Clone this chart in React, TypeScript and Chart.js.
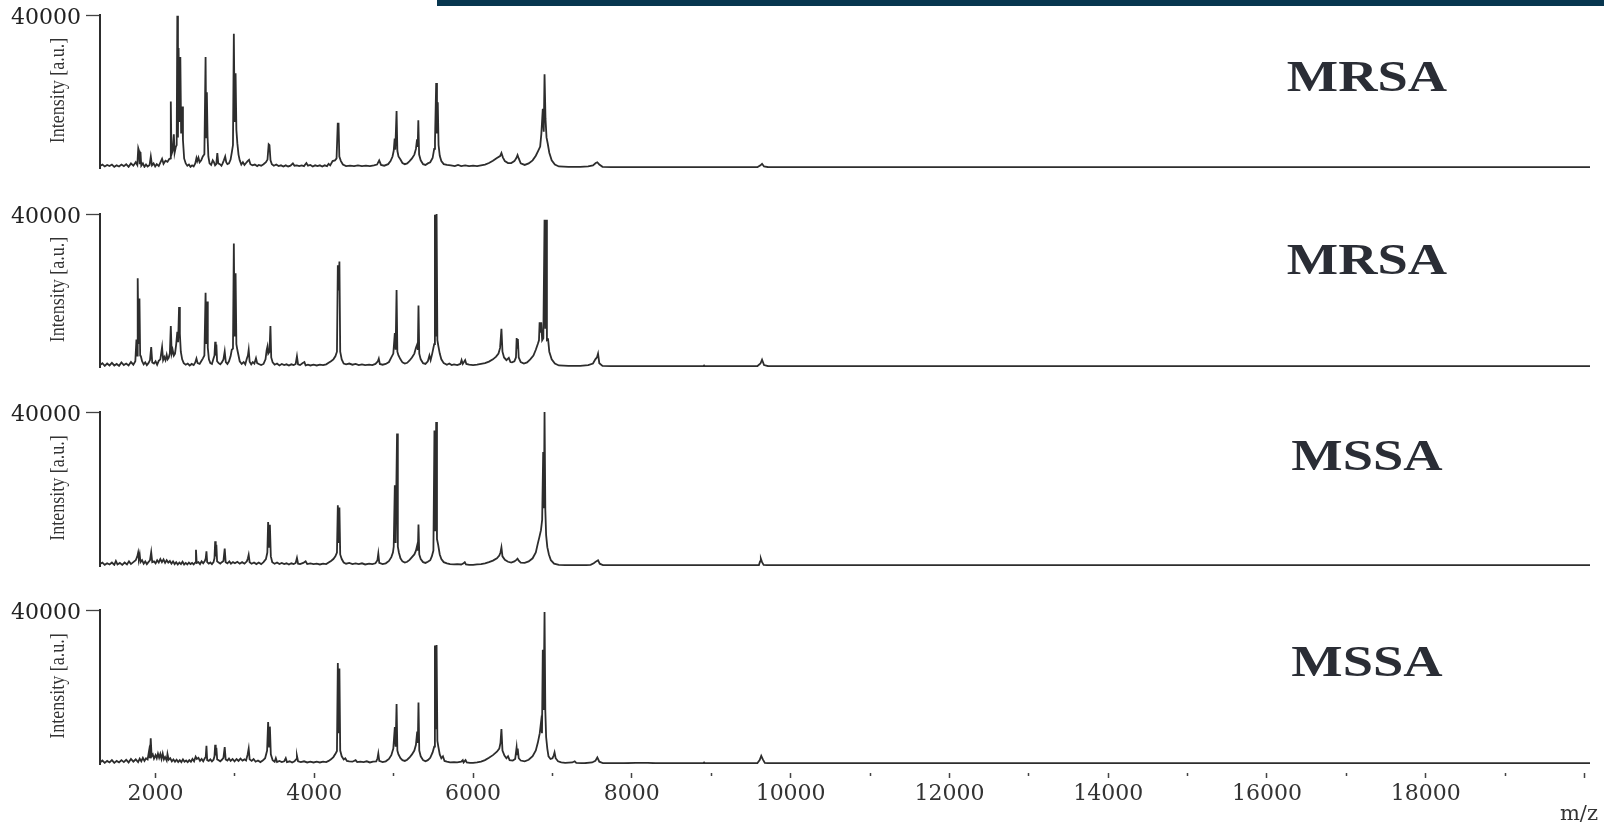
import React, { useEffect, useRef } from 'react';
import { Chart, registerables } from 'chart.js';

Chart.register(...registerables);

// ---------------- data ----------------
const panelLabels = ['MRSA', 'MRSA', 'MSSA', 'MSSA'];
const yAxisTitle = 'Intensity [a.u.]';
const xAxisTitle = 'm/z';
const yTopValue = 40000;
const xMin = 1300;
const xMax = 20070;
const xTickValues = [2000, 3000, 4000, 5000, 6000, 7000, 8000, 9000, 10000, 11000, 12000, 13000, 14000, 15000, 16000, 17000, 18000, 19000, 20000];
const xLabelledTicks = [2000, 4000, 6000, 8000, 10000, 12000, 14000, 16000, 18000];

// [m/z, intensity]
const mrsa1: number[][] = [
  [1300, 500], [1330, 900], [1360, 400], [1390, 800], [1420, 500], [1450, 900], [1480, 300], [1510, 700], [1540, 400], [1570, 900],
  [1600, 500], [1630, 1000], [1660, 300], [1690, 1200], [1720, 600], [1750, 1500], [1770, 800], [1782, 5200], [1792, 4500], [1800, 1000],
  [1810, 4200], [1820, 600], [1840, 1200], [1860, 300], [1880, 900], [1900, 400], [1925, 800], [1940, 3000], [1955, 700], [1975, 1200],
  [1995, 400], [2015, 1000], [2040, 500], [2060, 1400], [2082, 2400], [2100, 1100], [2125, 1900], [2150, 1600], [2170, 2300], [2185, 2500],
  [2192, 17400], [2200, 3500], [2215, 4500], [2230, 8800], [2240, 4000], [2255, 5500], [2266, 6000], [2274, 39800], [2282, 8000], [2290, 31400],
  [2300, 12000], [2312, 29000], [2322, 9000], [2334, 16100], [2345, 7300], [2360, 2500], [2380, 1200], [2400, 600], [2420, 900], [2440, 300],
  [2460, 700], [2480, 400], [2500, 1200], [2515, 2600], [2525, 1800], [2540, 2700], [2555, 1500], [2575, 2000], [2595, 3000], [2615, 3600],
  [2630, 29000], [2638, 8000], [2646, 19800], [2655, 8200], [2665, 3000], [2680, 1200], [2700, 800], [2720, 2000], [2735, 1500], [2750, 700],
  [2765, 1000], [2778, 3900], [2790, 1200], [2810, 1000], [2830, 600], [2845, 1200], [2860, 2000], [2877, 3000], [2890, 1500], [2905, 1000],
  [2925, 1200], [2945, 2200], [2960, 4000], [2975, 6000], [2986, 35100], [2996, 12000], [3008, 24800], [3018, 10000], [3030, 6500], [3045, 3500],
  [3060, 2000], [3080, 900], [3100, 1500], [3120, 800], [3140, 1300], [3160, 1800], [3178, 2150], [3195, 1000], [3220, 700], [3250, 900],
  [3280, 500], [3300, 800], [3330, 600], [3360, 1000], [3390, 1500], [3410, 2200], [3425, 6200], [3435, 6000], [3448, 2000], [3465, 1000],
  [3490, 600], [3520, 900], [3550, 500], [3580, 700], [3610, 400], [3640, 700], [3670, 400], [3700, 600], [3730, 1200], [3750, 600],
  [3780, 700], [3810, 500], [3840, 700], [3870, 500], [3900, 1300], [3920, 600], [3950, 800], [3980, 400], [4010, 700], [4040, 500],
  [4070, 700], [4100, 400], [4130, 700], [4160, 500], [4180, 1100], [4200, 700], [4230, 1800], [4260, 2000], [4280, 2500], [4295, 11600],
  [4305, 11600], [4315, 3000], [4335, 1800], [4360, 900], [4400, 500], [4450, 600], [4500, 500], [4550, 700], [4600, 500], [4650, 600],
  [4700, 500], [4750, 700], [4790, 900], [4817, 2000], [4840, 800], [4880, 600], [4930, 1000], [4960, 1800], [4985, 3000], [5000, 4500],
  [5012, 7700], [5020, 4800], [5036, 14900], [5046, 4500], [5060, 3000], [5085, 2200], [5110, 1300], [5140, 1000], [5170, 1200], [5200, 1800],
  [5230, 2500], [5260, 3500], [5280, 5000], [5294, 7500], [5302, 5500], [5310, 12500], [5320, 3500], [5340, 2000], [5370, 1000], [5400, 800],
  [5430, 1200], [5460, 1500], [5490, 2600], [5510, 5000], [5520, 7000], [5535, 22200], [5545, 9000], [5555, 17200], [5565, 6000], [5580, 3200],
  [5600, 1800], [5630, 1000], [5670, 800], [5720, 700], [5770, 500], [5810, 800], [5850, 500], [5900, 700], [5950, 500], [6000, 600],
  [6050, 500], [6100, 700], [6150, 900], [6200, 1300], [6250, 1900], [6300, 2600], [6340, 3100], [6357, 3900], [6375, 2800], [6400, 1800],
  [6440, 1300], [6480, 1300], [6520, 1800], [6545, 2600], [6560, 3400], [6575, 2500], [6600, 1200], [6650, 800], [6700, 1200], [6750, 2000],
  [6790, 3200], [6820, 4500], [6845, 5600], [6860, 9000], [6878, 15500], [6890, 9500], [6900, 24500], [6912, 12900], [6925, 8000], [6940, 6400],
  [6960, 4000], [6990, 2000], [7030, 900], [7080, 400], [7200, 300], [7350, 300], [7450, 400], [7510, 700], [7545, 1300], [7565, 1500],
  [7590, 900], [7630, 300], [7800, 200], [8500, 200], [9000, 200], [9580, 200], [9620, 700], [9640, 1100], [9665, 400], [9720, 200],
  [12000, 200], [16000, 200], [20070, 200],
];

const mrsa2: number[][] = [
  [1300, 500], [1330, 1000], [1360, 300], [1390, 900], [1420, 400], [1450, 1100], [1480, 400], [1510, 800], [1540, 300], [1570, 1200],
  [1600, 500], [1630, 900], [1660, 400], [1690, 1300], [1720, 600], [1745, 1500], [1759, 7200], [1767, 3000], [1775, 23200], [1785, 6000],
  [1797, 17900], [1806, 3000], [1815, 2800], [1830, 1500], [1850, 700], [1870, 1200], [1890, 500], [1910, 1000], [1930, 1800], [1945, 5200],
  [1958, 1200], [1980, 900], [2000, 1500], [2020, 600], [2040, 1600], [2060, 2000], [2082, 5200], [2095, 1800], [2110, 2600], [2125, 1800],
  [2140, 3200], [2152, 2000], [2165, 2400], [2180, 3500], [2192, 10700], [2203, 3500], [2215, 4500], [2230, 3000], [2245, 3500], [2260, 6000],
  [2274, 9200], [2284, 6500], [2296, 15700], [2306, 8700], [2318, 4000], [2335, 2000], [2355, 1000], [2380, 600], [2405, 900], [2430, 400],
  [2455, 800], [2480, 500], [2500, 1200], [2515, 2200], [2530, 1000], [2555, 800], [2575, 1500], [2595, 2200], [2615, 3000], [2630, 19400],
  [2638, 6000], [2648, 17100], [2658, 5000], [2672, 2000], [2690, 1000], [2710, 800], [2730, 2200], [2742, 3000], [2751, 6600], [2758, 3000],
  [2766, 5900], [2775, 1500], [2795, 1000], [2815, 700], [2835, 1200], [2855, 2000], [2871, 4100], [2885, 1300], [2905, 800], [2925, 1500],
  [2945, 2800], [2960, 4500], [2975, 4800], [2986, 32300], [2996, 8000], [3008, 24500], [3018, 6000], [3030, 4500], [3045, 3000], [3060, 1500],
  [3085, 800], [3110, 1300], [3130, 700], [3150, 2200], [3163, 3000], [3173, 4500], [3185, 1400], [3205, 700], [3225, 1300], [3245, 900],
  [3265, 2300], [3280, 1000], [3300, 800], [3330, 500], [3360, 800], [3385, 2000], [3400, 4500], [3410, 5400], [3420, 3500], [3435, 4000],
  [3447, 10700], [3457, 2500], [3475, 1200], [3500, 600], [3530, 900], [3560, 400], [3590, 800], [3620, 500], [3650, 700], [3680, 400],
  [3710, 700], [3740, 500], [3765, 800], [3781, 2800], [3795, 700], [3820, 500], [3850, 1000], [3875, 1300], [3890, 400], [3920, 600],
  [3950, 400], [3990, 600], [4030, 400], [4070, 600], [4110, 500], [4150, 700], [4180, 1100], [4210, 1500], [4240, 2000], [4265, 2800],
  [4285, 4000], [4296, 26600], [4306, 20000], [4316, 27600], [4326, 4000], [4345, 2000], [4370, 900], [4400, 700], [4440, 900], [4480, 600],
  [4520, 800], [4560, 500], [4600, 700], [4640, 500], [4690, 600], [4730, 500], [4770, 800], [4800, 1500], [4812, 2200], [4825, 800],
  [4860, 600], [4900, 800], [4940, 1300], [4970, 2500], [4995, 3500], [5014, 8900], [5024, 4500], [5036, 20100], [5046, 4000], [5060, 3000],
  [5085, 2000], [5110, 1200], [5140, 900], [5170, 1100], [5200, 1700], [5230, 2500], [5260, 3500], [5280, 5000], [5296, 5900], [5304, 4500],
  [5312, 16100], [5322, 3500], [5340, 2000], [5370, 1000], [5400, 800], [5430, 1500], [5450, 3000], [5465, 1800], [5485, 3500], [5500, 5000],
  [5510, 6000], [5519, 39800], [5528, 8000], [5540, 40300], [5550, 7000], [5562, 5500], [5580, 3500], [5600, 2000], [5630, 1000], [5670, 600],
  [5700, 900], [5730, 500], [5760, 700], [5800, 500], [5840, 800], [5855, 1800], [5870, 800], [5900, 1800], [5915, 800], [5950, 600],
  [6000, 500], [6050, 600], [6100, 800], [6150, 1000], [6200, 1400], [6250, 2000], [6290, 2700], [6320, 3500], [6340, 5000], [6357, 10000],
  [6370, 4000], [6390, 2500], [6420, 1800], [6450, 2400], [6470, 1300], [6490, 1200], [6520, 1500], [6540, 2500], [6549, 7600], [6556, 5000],
  [6564, 7300], [6575, 2500], [6600, 1300], [6640, 900], [6680, 1200], [6720, 2000], [6760, 3000], [6790, 4500], [6815, 6000], [6830, 7000],
  [6838, 11700], [6848, 9000], [6858, 11700], [6870, 7000], [6885, 7500], [6900, 38500], [6910, 10000], [6920, 38500], [6930, 7000], [6945, 7200],
  [6960, 4000], [6990, 2000], [7030, 900], [7080, 400], [7200, 300], [7350, 300], [7450, 500], [7510, 900], [7540, 2000], [7560, 2500],
  [7574, 3500], [7590, 1000], [7630, 300], [7800, 200], [8500, 200], [8900, 200], [8910, 400], [8920, 200], [9580, 200], [9620, 900],
  [9640, 1900], [9665, 500], [9720, 200], [12000, 200], [16000, 200], [20070, 200],
];

const mssa1: number[][] = [
  [1300, 500], [1330, 900], [1360, 300], [1390, 700], [1420, 400], [1450, 900], [1480, 300], [1500, 1300], [1520, 400], [1550, 800],
  [1580, 300], [1610, 900], [1640, 400], [1665, 1200], [1690, 500], [1720, 1000], [1750, 1500], [1770, 2500], [1781, 3500], [1790, 2000],
  [1800, 3000], [1810, 1000], [1830, 1500], [1850, 600], [1870, 1200], [1890, 500], [1910, 1000], [1930, 1500], [1945, 3600], [1958, 1000],
  [1980, 1200], [2000, 700], [2020, 1500], [2040, 900], [2060, 1800], [2080, 1000], [2100, 1700], [2120, 800], [2140, 1500], [2160, 900],
  [2180, 1300], [2200, 600], [2220, 1200], [2240, 500], [2260, 1000], [2280, 400], [2300, 900], [2320, 500], [2340, 1100], [2360, 400],
  [2380, 800], [2400, 400], [2420, 900], [2440, 500], [2460, 800], [2480, 400], [2498, 900], [2509, 4200], [2518, 800], [2540, 1000],
  [2560, 500], [2580, 1200], [2600, 700], [2620, 1300], [2632, 2000], [2641, 3800], [2650, 1000], [2670, 600], [2690, 900], [2710, 500],
  [2730, 1000], [2742, 2000], [2751, 6400], [2758, 2500], [2766, 5500], [2775, 1200], [2795, 900], [2815, 600], [2835, 1000], [2855, 1300],
  [2871, 4500], [2883, 1000], [2905, 700], [2930, 1200], [2950, 600], [2975, 1000], [3000, 700], [3030, 1100], [3060, 600], [3090, 1000],
  [3120, 600], [3150, 1200], [3163, 2000], [3173, 2900], [3185, 1000], [3210, 600], [3240, 900], [3270, 500], [3300, 900], [3330, 500],
  [3360, 1000], [3390, 1800], [3408, 3500], [3418, 11400], [3430, 5000], [3440, 10700], [3452, 2500], [3470, 1000], [3500, 600], [3530, 900],
  [3560, 500], [3590, 800], [3620, 500], [3650, 700], [3680, 400], [3710, 700], [3740, 500], [3765, 800], [3781, 2100], [3795, 600],
  [3820, 500], [3860, 800], [3890, 1200], [3910, 500], [3950, 700], [3990, 500], [4030, 600], [4070, 400], [4110, 600], [4150, 500],
  [4180, 900], [4210, 1300], [4240, 1800], [4265, 2500], [4285, 3500], [4296, 15800], [4306, 6000], [4316, 15200], [4326, 3000], [4345, 1800],
  [4370, 900], [4400, 600], [4440, 800], [4480, 500], [4520, 700], [4560, 500], [4600, 700], [4640, 400], [4690, 600], [4730, 500],
  [4770, 700], [4795, 1500], [4806, 3200], [4818, 800], [4860, 500], [4900, 700], [4940, 1300], [4970, 2300], [4990, 3500], [5000, 5000],
  [5014, 21000], [5024, 6000], [5042, 34400], [5052, 5000], [5065, 3500], [5085, 2000], [5110, 1200], [5140, 900], [5170, 1100], [5200, 1600],
  [5230, 2300], [5260, 3000], [5280, 4000], [5296, 5400], [5304, 4000], [5312, 10800], [5322, 3000], [5340, 1800], [5370, 1000], [5400, 800],
  [5430, 1100], [5460, 1500], [5480, 2500], [5500, 4000], [5513, 35200], [5522, 9000], [5535, 37400], [5545, 7000], [5560, 5500], [5580, 3000],
  [5600, 1800], [5630, 1000], [5670, 700], [5710, 500], [5760, 400], [5800, 500], [5850, 400], [5880, 700], [5895, 1000], [5910, 400],
  [5950, 300], [6000, 300], [6050, 400], [6100, 500], [6150, 700], [6200, 1000], [6250, 1400], [6300, 2000], [6330, 2700], [6345, 3500],
  [6357, 4800], [6370, 2500], [6400, 1600], [6440, 1100], [6480, 900], [6520, 1200], [6545, 1600], [6560, 1900], [6575, 1400], [6600, 900],
  [6650, 800], [6700, 1200], [6750, 2000], [6790, 3500], [6815, 5800], [6835, 7500], [6855, 9300], [6870, 12000], [6883, 29600], [6892, 15000],
  [6900, 40000], [6910, 14500], [6920, 8000], [6935, 4900], [6955, 3000], [6980, 1500], [7020, 600], [7080, 300], [7200, 200], [7400, 200],
  [7480, 300], [7520, 700], [7550, 1200], [7574, 1500], [7595, 600], [7640, 200], [8000, 200], [9000, 200], [9600, 200], [9615, 1200],
  [9625, 1900], [9640, 1000], [9660, 300], [9720, 200], [12000, 200], [16000, 200], [20070, 200],
];

const mssa2: number[][] = [
  [1300, 400], [1330, 900], [1360, 300], [1390, 800], [1420, 400], [1450, 1000], [1480, 300], [1510, 800], [1540, 400], [1570, 1000],
  [1600, 500], [1630, 1100], [1660, 400], [1690, 1300], [1720, 600], [1750, 1200], [1780, 500], [1800, 1400], [1820, 700], [1840, 1600],
  [1860, 800], [1880, 1500], [1900, 1200], [1918, 3400], [1928, 1500], [1939, 6700], [1950, 2000], [1965, 2500], [1980, 1400], [2000, 2300],
  [2015, 1500], [2030, 2700], [2045, 1600], [2060, 2600], [2075, 1300], [2090, 2700], [2105, 1200], [2120, 1800], [2140, 900], [2150, 2600],
  [2165, 1100], [2185, 1500], [2205, 700], [2225, 1200], [2245, 600], [2265, 1100], [2285, 500], [2305, 1000], [2325, 500], [2345, 1200],
  [2365, 600], [2385, 900], [2405, 500], [2425, 1000], [2445, 600], [2465, 1300], [2485, 700], [2505, 1900], [2520, 1300], [2540, 1600],
  [2560, 800], [2580, 1300], [2600, 700], [2620, 1500], [2632, 1800], [2641, 4700], [2650, 1000], [2670, 800], [2690, 1200], [2710, 700],
  [2730, 1100], [2742, 2000], [2751, 5000], [2758, 2200], [2766, 4200], [2776, 1200], [2795, 1000], [2815, 700], [2835, 1100], [2855, 1600],
  [2871, 4400], [2883, 1200], [2905, 900], [2925, 1400], [2945, 800], [2970, 1300], [2995, 700], [3020, 1300], [3045, 800], [3070, 1400],
  [3095, 900], [3120, 1200], [3140, 900], [3160, 2500], [3173, 4000], [3185, 1200], [3210, 800], [3235, 1300], [3260, 600], [3290, 900],
  [3320, 500], [3350, 900], [3380, 1500], [3405, 3500], [3418, 10900], [3430, 4500], [3440, 9700], [3452, 2500], [3475, 1000], [3500, 600],
  [3515, 1500], [3530, 500], [3560, 800], [3590, 500], [3620, 700], [3640, 1500], [3655, 500], [3690, 700], [3720, 400], [3750, 700],
  [3770, 1200], [3781, 2100], [3795, 700], [3830, 500], [3870, 700], [3910, 400], [3950, 600], [3990, 400], [4030, 600], [4070, 400],
  [4110, 600], [4150, 500], [4180, 800], [4210, 1200], [4240, 1800], [4270, 2800], [4285, 3400], [4296, 26200], [4306, 8000], [4316, 24800],
  [4326, 3500], [4345, 2000], [4370, 1200], [4390, 1500], [4410, 800], [4440, 700], [4480, 600], [4520, 1000], [4540, 500], [4580, 600],
  [4620, 500], [4660, 700], [4700, 400], [4740, 600], [4780, 700], [4796, 1500], [4806, 2700], [4818, 800], [4860, 500], [4900, 700],
  [4940, 1300], [4970, 2300], [4995, 4000], [5014, 9600], [5024, 4500], [5036, 15600], [5046, 3500], [5060, 2500], [5085, 1500], [5110, 1000],
  [5140, 800], [5170, 1100], [5200, 1700], [5230, 2500], [5260, 3500], [5280, 5000], [5296, 8400], [5304, 5500], [5312, 16000], [5322, 3500],
  [5340, 2000], [5370, 1000], [5400, 700], [5430, 1000], [5460, 1600], [5490, 3000], [5510, 4500], [5519, 30800], [5528, 9000], [5540, 30900],
  [5550, 6000], [5562, 4500], [5580, 2500], [5600, 1500], [5620, 2000], [5640, 800], [5670, 600], [5710, 400], [5760, 500], [5800, 400],
  [5850, 600], [5870, 1000], [5880, 400], [5905, 1000], [5920, 400], [5960, 300], [6000, 300], [6050, 400], [6100, 600], [6150, 1000],
  [6200, 1600], [6250, 2300], [6300, 3200], [6330, 4000], [6345, 5500], [6357, 9100], [6370, 3500], [6395, 2200], [6420, 1500], [6440, 2000],
  [6460, 1000], [6500, 900], [6530, 1300], [6548, 4300], [6555, 2500], [6562, 4000], [6575, 1500], [6600, 900], [6650, 700], [6700, 1100],
  [6750, 2000], [6790, 3500], [6815, 5500], [6840, 8000], [6855, 10700], [6868, 8000], [6878, 29700], [6888, 14000], [6900, 39500], [6910, 13700],
  [6920, 7000], [6935, 4000], [6950, 2000], [6975, 1300], [7000, 1500], [7015, 2200], [7026, 3000], [7040, 1500], [7070, 700], [7110, 400],
  [7160, 300], [7250, 400], [7280, 700], [7300, 300], [7400, 200], [7500, 400], [7540, 800], [7565, 1700], [7590, 600], [7640, 200],
  [7900, 200], [8050, 300], [8200, 300], [8300, 200], [8900, 200], [8910, 400], [8920, 200], [9580, 200], [9610, 1000], [9630, 2100],
  [9650, 1200], [9675, 300], [9730, 200], [12000, 200], [16000, 200], [20070, 200],
];

const spectra = [mrsa1, mrsa2, mssa1, mssa2];

// ---------------- layout ----------------
const PAGE_W = 1604;
const PAGE_H = 823;
const PANEL_TOP = [15, 214, 412, 610];
const PANEL_BOTTOM = [168, 367, 566, 764];
const LABEL_BASELINE = [91, 274, 470, 676];
const LABEL_CX = 1367;
const PAD_TOP = 20;
const PAD_BOTTOM = 28;
const TEXT_COLOR = '#333333';
const LINE_COLOR = '#2d2d2d';
const SERIF_NUM = "'DejaVu Serif', serif";
const SERIF_TXT = "'Liberation Serif', 'Times New Roman', serif";

function Panel({ index }: { index: number }) {
  const ref = useRef<HTMLCanvasElement>(null);
  const isLast = index === spectra.length - 1;
  const top = PANEL_TOP[index] - PAD_TOP;
  const height = isLast ? PAGE_H - top : PANEL_BOTTOM[index] - PANEL_TOP[index] + PAD_TOP + PAD_BOTTOM;
  const xAxisHeight = PAGE_H - PANEL_BOTTOM[index];

  useEffect(() => {
    if (!ref.current) return;
    const textPlugin = {
      id: 'panelText' + index,
      afterDraw(chart: any) {
        const { ctx, chartArea } = chart;
        // species label
        ctx.save();
        ctx.fillStyle = '#2a2d35';
        ctx.font = 'bold 45px ' + SERIF_TXT;
        ctx.textAlign = 'center';
        ctx.textBaseline = 'alphabetic';
        ctx.translate(LABEL_CX, LABEL_BASELINE[index] - top);
        ctx.scale(1.21, 1);
        ctx.fillText(panelLabels[index], 0, 0);
        ctx.restore();
        // y axis title
        ctx.save();
        ctx.fillStyle = TEXT_COLOR;
        ctx.font = '18px ' + SERIF_TXT;
        ctx.translate(chartArea.left - 41.5, (chartArea.top + chartArea.bottom) / 2 - 1);
        ctx.scale(1.2, 1);
        ctx.rotate(-Math.PI / 2);
        ctx.textAlign = 'center';
        ctx.textBaseline = 'middle';
        ctx.fillText(yAxisTitle, 0, 0);
        ctx.restore();
        if (isLast) {
          ctx.save();
          ctx.fillStyle = TEXT_COLOR;
          ctx.font = '21px ' + SERIF_NUM;
          ctx.textAlign = 'right';
          ctx.textBaseline = 'alphabetic';
          ctx.fillText(xAxisTitle, 1598, PAGE_H - 3 - top);
          ctx.restore();
        }
      },
    };

    const xScale: any = {
      type: 'linear',
      min: xMin,
      max: xMax,
      display: isLast,
      afterBuildTicks: (s: any) => {
        s.ticks = xTickValues.map((v) => ({ value: v }));
      },
      border: { display: false },
      grid: {
        drawOnChartArea: false,
        drawTicks: true,
        tickLength: 14,
        tickColor: '#444444',
        tickWidth: 1.5,
        tickBorderDash: (c: any) =>
          c.tick && (xLabelledTicks.includes(c.tick.value) || c.tick.value === 20000) ? [0, 9, 5, 100] : [0, 9, 3, 100],
      },
      ticks: {
        autoSkip: false,
        maxRotation: 0,
        minRotation: 0,
        padding: 3,
        color: TEXT_COLOR,
        font: { family: SERIF_NUM, size: 22 },
        callback: (v: any) => (xLabelledTicks.includes(v) ? String(v) : ''),
      },
    };
    if (isLast) {
      xScale.afterFit = (s: any) => {
        s.height = xAxisHeight;
      };
    }

    const chart = new Chart(ref.current, {
      type: 'line',
      data: {
        datasets: [
          {
            data: spectra[index].map(([x, y]) => ({ x, y })),
            borderColor: LINE_COLOR,
            borderWidth: 1.8,
            pointRadius: 0,
            tension: 0,
            fill: false,
          },
        ],
      },
      options: {
        responsive: false,
        animation: false,
        events: [],
        layout: { padding: { top: PAD_TOP, bottom: isLast ? 0 : PAD_BOTTOM, left: 0, right: PAGE_W - 1590 } },
        plugins: { legend: { display: false }, tooltip: { enabled: false } },
        scales: {
          x: xScale,
          y: {
            type: 'linear',
            min: 0,
            max: yTopValue,
            afterFit: (s: any) => {
              s.width = 100;
            },
            border: { display: true, color: LINE_COLOR, width: 2 },
            grid: {
              drawOnChartArea: false,
              drawTicks: true,
              tickLength: 14,
              tickWidth: 1.3,
              tickColor: (c: any) => (c.tick && c.tick.value === yTopValue ? '#444444' : 'rgba(0,0,0,0)'),
            },
            ticks: {
              stepSize: yTopValue,
              padding: 5,
              labelOffset: 3,
              color: '#222222',
              font: { family: SERIF_NUM, size: 22 },
              callback: (v: any) => (v === yTopValue ? String(yTopValue) : ''),
            },
          },
        },
      },
      plugins: [textPlugin],
    } as any);
    return () => chart.destroy();
  }, []);

  return (
    <canvas
      ref={ref}
      width={PAGE_W}
      height={height}
      style={{ position: 'absolute', left: 0, top, display: 'block' }}
    />
  );
}

export default function App() {
  return (
    <div style={{ position: 'absolute', left: 0, top: 0, width: PAGE_W, height: PAGE_H, background: '#ffffff', overflow: 'hidden' }}>
      <div style={{ position: 'absolute', left: 437, top: 0, width: PAGE_W - 437, height: 6, background: '#07364f' }} />
      {spectra.map((_, i) => (
        <Panel key={i} index={i} />
      ))}
    </div>
  );
}
